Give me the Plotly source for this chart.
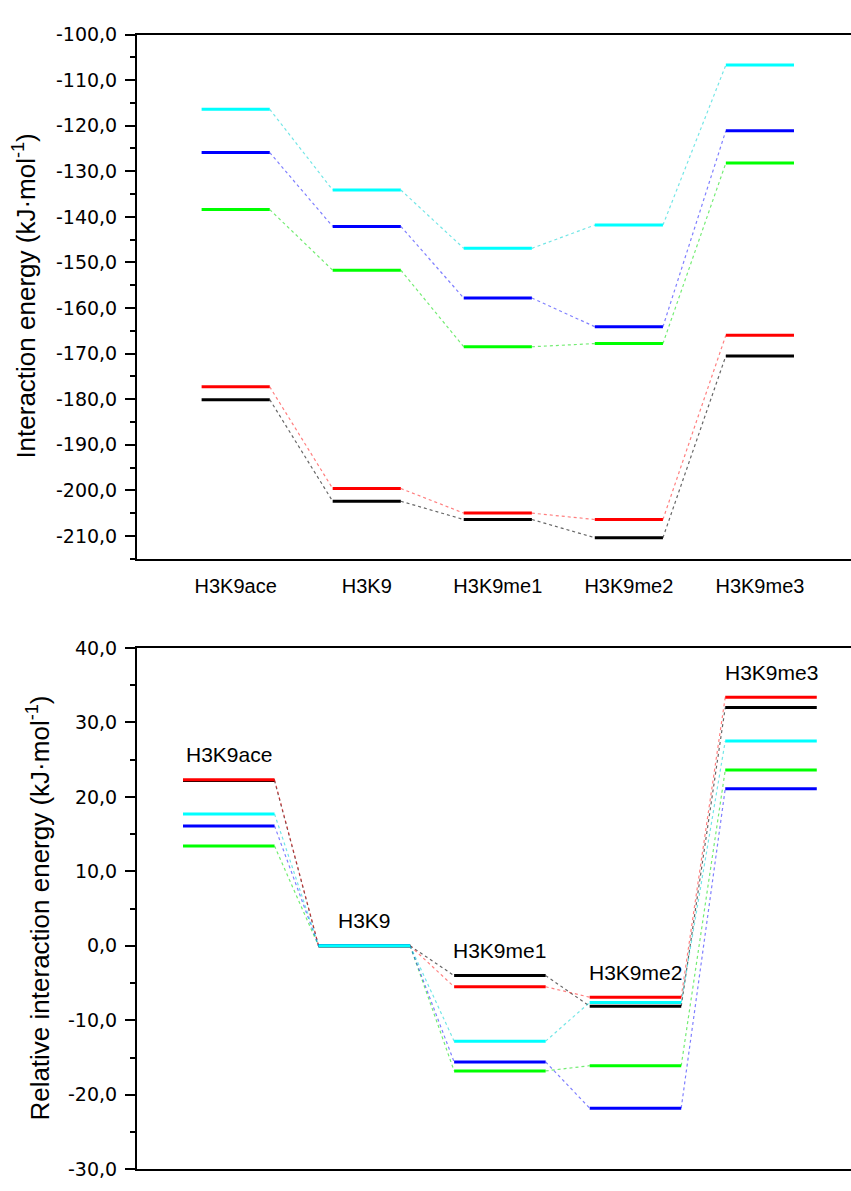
import plotly.graph_objects as go

# ---------------- data ----------------
categories = ["H3K9ace", "H3K9", "H3K9me1", "H3K9me2", "H3K9me3"]

# absolute interaction energies (kJ/mol), top panel
abs_black = [-180.1, -202.4, -206.4, -210.4, -170.5]
abs_red = [-177.3, -199.6, -205.0, -206.4, -166.0]
abs_green = [-138.4, -151.7, -168.5, -167.8, -128.2]
abs_blue = [-125.9, -142.1, -157.8, -164.1, -121.1]
abs_cyan = [-116.4, -134.1, -146.9, -141.8, -106.7]

# relative interaction energies (kJ/mol), bottom panel
rel_black = [22.2, 0.0, -4.0, -8.1, 32.0]
rel_red = [22.3, 0.0, -5.5, -6.9, 33.4]
rel_green = [13.4, 0.0, -16.8, -16.1, 23.6]
rel_blue = [16.1, 0.0, -15.6, -21.8, 21.1]
rel_cyan = [17.7, 0.0, -12.8, -7.6, 27.5]

top_tick_values = [-100, -110, -120, -130, -140, -150, -160, -170, -180, -190, -200, -210]
bottom_tick_values = [40, 30, 20, 10, 0, -10, -20, -30]

series_colors = ["#000000", "#FF0000", "#00FF00", "#0000FF", "#00FFFF"]
connector_colors = ["rgba(0,0,0,0.6)", "rgba(255,0,0,0.5)", "rgba(0,220,0,0.55)",
                    "rgba(0,0,255,0.5)", "rgba(0,210,210,0.55)"]

top_series = [abs_black, abs_red, abs_green, abs_blue, abs_cyan]
bottom_series = [rel_black, rel_red, rel_green, rel_blue, rel_cyan]


def fmt(v):
    return f"{v:.1f}".replace(".", ",")


fig = go.Figure()


def add_levels(values, color, conn_color, half, xa, ya):
    n = len(values)
    lx, ly, cx, cy = [], [], [], []
    for i, v in enumerate(values):
        lx += [i - half, i + half, None]
        ly += [v, v, None]
        if i < n - 1:
            cx += [i + half, i + 1 - half, None]
            cy += [v, values[i + 1], None]
    fig.add_trace(go.Scatter(x=cx, y=cy, mode="lines", xaxis=xa, yaxis=ya,
                             line=dict(color=conn_color, width=1.2, dash="dot"),
                             hoverinfo="skip", showlegend=False))
    fig.add_trace(go.Scatter(x=lx, y=ly, mode="lines", xaxis=xa, yaxis=ya,
                             line=dict(color=color, width=3),
                             showlegend=False))


TOP_HALF = 0.26
BOT_HALF = 0.3376

for vals, c, cc in zip(top_series, series_colors, connector_colors):
    add_levels(vals, c, cc, TOP_HALF, "x", "y")
for vals, c, cc in zip(bottom_series, series_colors, connector_colors):
    add_levels(vals, c, cc, BOT_HALF, "x2", "y2")

W, H = 851, 1191
L = 137
plot_w = W - L

tick_font = dict(family="DejaVu Sans, Arial, sans-serif", size=19, color="black")
lab_font = dict(family="Arial, Liberation Sans, sans-serif", size=20, color="black")
title_font = dict(family="Arial, Liberation Sans, sans-serif", size=26, color="black")

axis_common = dict(showgrid=False, zeroline=False, showline=True, linecolor="black",
                   linewidth=2)

fig.update_layout(
    width=W, height=H,
    margin=dict(l=L, r=0, t=0, b=0),
    plot_bgcolor="white", paper_bgcolor="white",
    showlegend=False,
    xaxis=dict(domain=[0, 1], anchor="y", range=[-0.753, 4.695],
               tickvals=list(range(len(categories))), ticktext=categories,
               ticks="", tickfont=lab_font, ticklabelstandoff=8,
               mirror=True, **axis_common),
    yaxis=dict(domain=[1 - 558 / H, 1 - 24 / H], anchor="x", range=[-215, -100],
               tickvals=top_tick_values, ticktext=[fmt(v) for v in top_tick_values],
               ticks="outside", ticklen=10, tickwidth=2, tickcolor="black",
               minor=dict(ticks="outside", ticklen=5, tickwidth=2, tickcolor="black", dtick=5),
               tickfont=tick_font, ticklabelstandoff=4,
               **axis_common),
    xaxis2=dict(domain=[0, 1], anchor="y2", range=[-0.677, 4.59],
                showticklabels=False, ticks="", mirror=True, **axis_common),
    yaxis2=dict(domain=[1 - 1180 / H, 1 - 649 / H], anchor="x2", range=[-30, 40],
                tickvals=bottom_tick_values, ticktext=[fmt(v) for v in bottom_tick_values],
                ticks="outside", ticklen=10, tickwidth=2, tickcolor="black",
                minor=dict(ticks="outside", ticklen=5, tickwidth=2, tickcolor="black", dtick=5),
                tickfont=tick_font, ticklabelstandoff=4,
                **axis_common),
)

# axis titles
fig.add_annotation(text="Interaction energy (kJ·mol<sup>-1</sup>)", textangle=-90,
                   xref="paper", yref="y domain", x=(25 - L) / plot_w, y=0.5,
                   xanchor="center", yanchor="middle", showarrow=False, font=title_font)
fig.add_annotation(text="Relative interaction energy (kJ·mol<sup>-1</sup>)", textangle=-90,
                   xref="paper", yref="y2 domain", x=(39 - L) / plot_w, y=0.5,
                   xanchor="center", yanchor="middle", showarrow=False, font=title_font)

# level labels in bottom panel
for i, name in enumerate(categories):
    top_val = max(s[i] for s in bottom_series)
    fig.add_annotation(text=name, x=i, y=top_val, xref="x2", yref="y2",
                       yshift=25, showarrow=False, font=dict(lab_font, size=21),
                       xanchor="center", yanchor="middle")

post = (
    "document.body.style.margin='0';"
    "document.body.style.overflow='hidden';"
)

fig.write_html("out.html", config={"displayModeBar": False}, post_script=post)
